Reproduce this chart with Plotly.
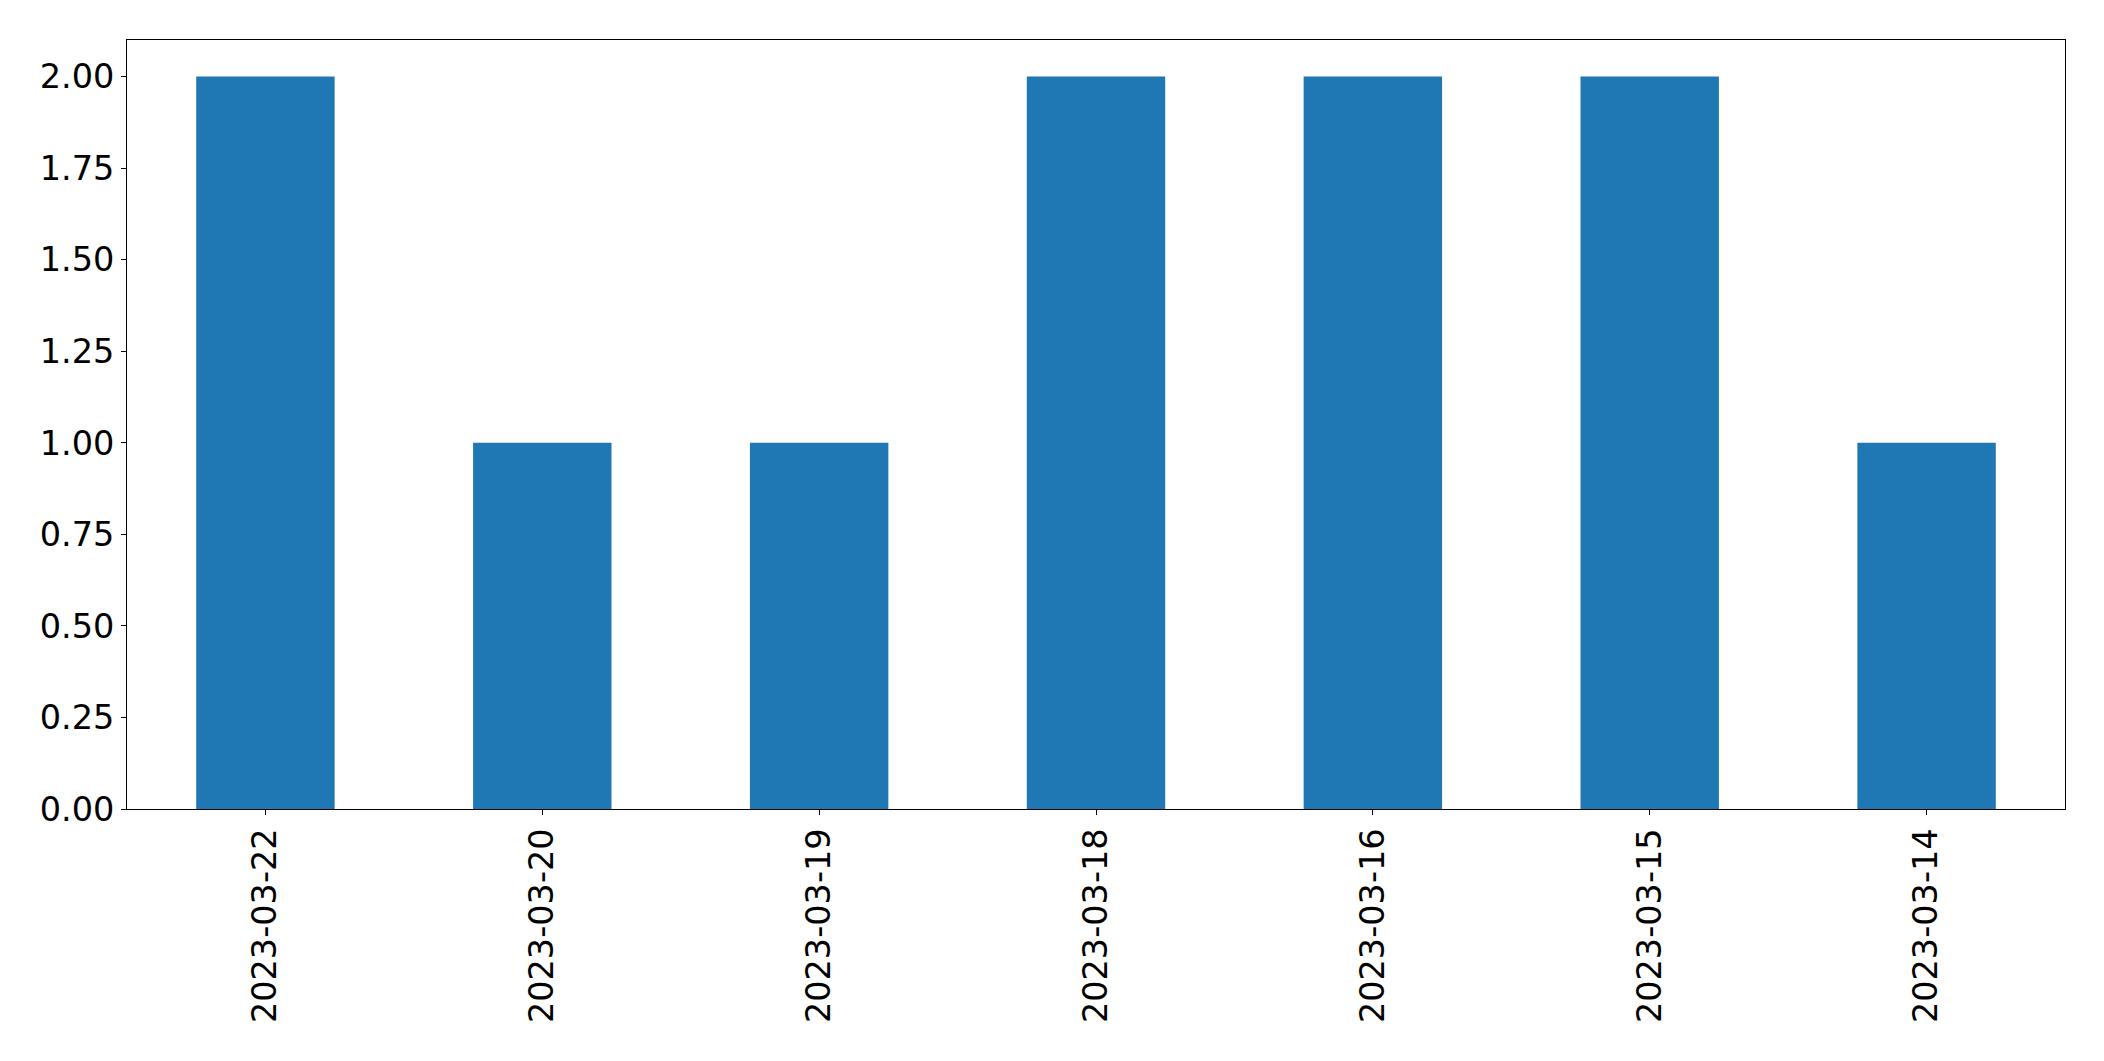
import plotly.graph_objects as go

categories = ["2023-03-22", "2023-03-20", "2023-03-19", "2023-03-18", "2023-03-16", "2023-03-15", "2023-03-14"]
values = [2, 1, 1, 2, 2, 2, 1]
y_ticks = [0, 0.25, 0.5, 0.75, 1.0, 1.25, 1.5, 1.75, 2.0]
y_tick_labels = ["0.00", "0.25", "0.50", "0.75", "1.00", "1.25", "1.50", "1.75", "2.00"]

fig = go.Figure(go.Bar(x=categories, y=values, marker=dict(color="#1f77b4", line=dict(width=0)), width=0.5))

font = dict(family="DejaVu Sans", size=33.5, color="black")
fig.update_layout(
    width=2104, height=1061,
    margin=dict(l=127, r=38.5, t=39.5, b=251.7, autoexpand=False),
    paper_bgcolor="white", plot_bgcolor="white",
    font=font, showlegend=False, bargap=0.5,
)
fig.update_xaxes(
    type="category", range=[-0.5, 6.5], tickangle=-90,
    showline=True, linecolor="black", linewidth=1, mirror=True,
    ticks="outside", ticklen=5, tickcolor="black", tickwidth=1,
    showgrid=False, zeroline=False, tickfont=font, ticklabelstandoff=0,
)
fig.update_yaxes(
    range=[0, 2.1], tickvals=y_ticks, ticktext=y_tick_labels,
    showline=True, linecolor="black", linewidth=1, mirror=True,
    ticks="outside", ticklen=5, tickcolor="black", tickwidth=1,
    showgrid=False, zeroline=False, tickfont=font, ticklabelstandoff=0,
)
fig.write_html("out.html", config={"displayModeBar": False},
               post_script="document.body.style.margin='0';")
